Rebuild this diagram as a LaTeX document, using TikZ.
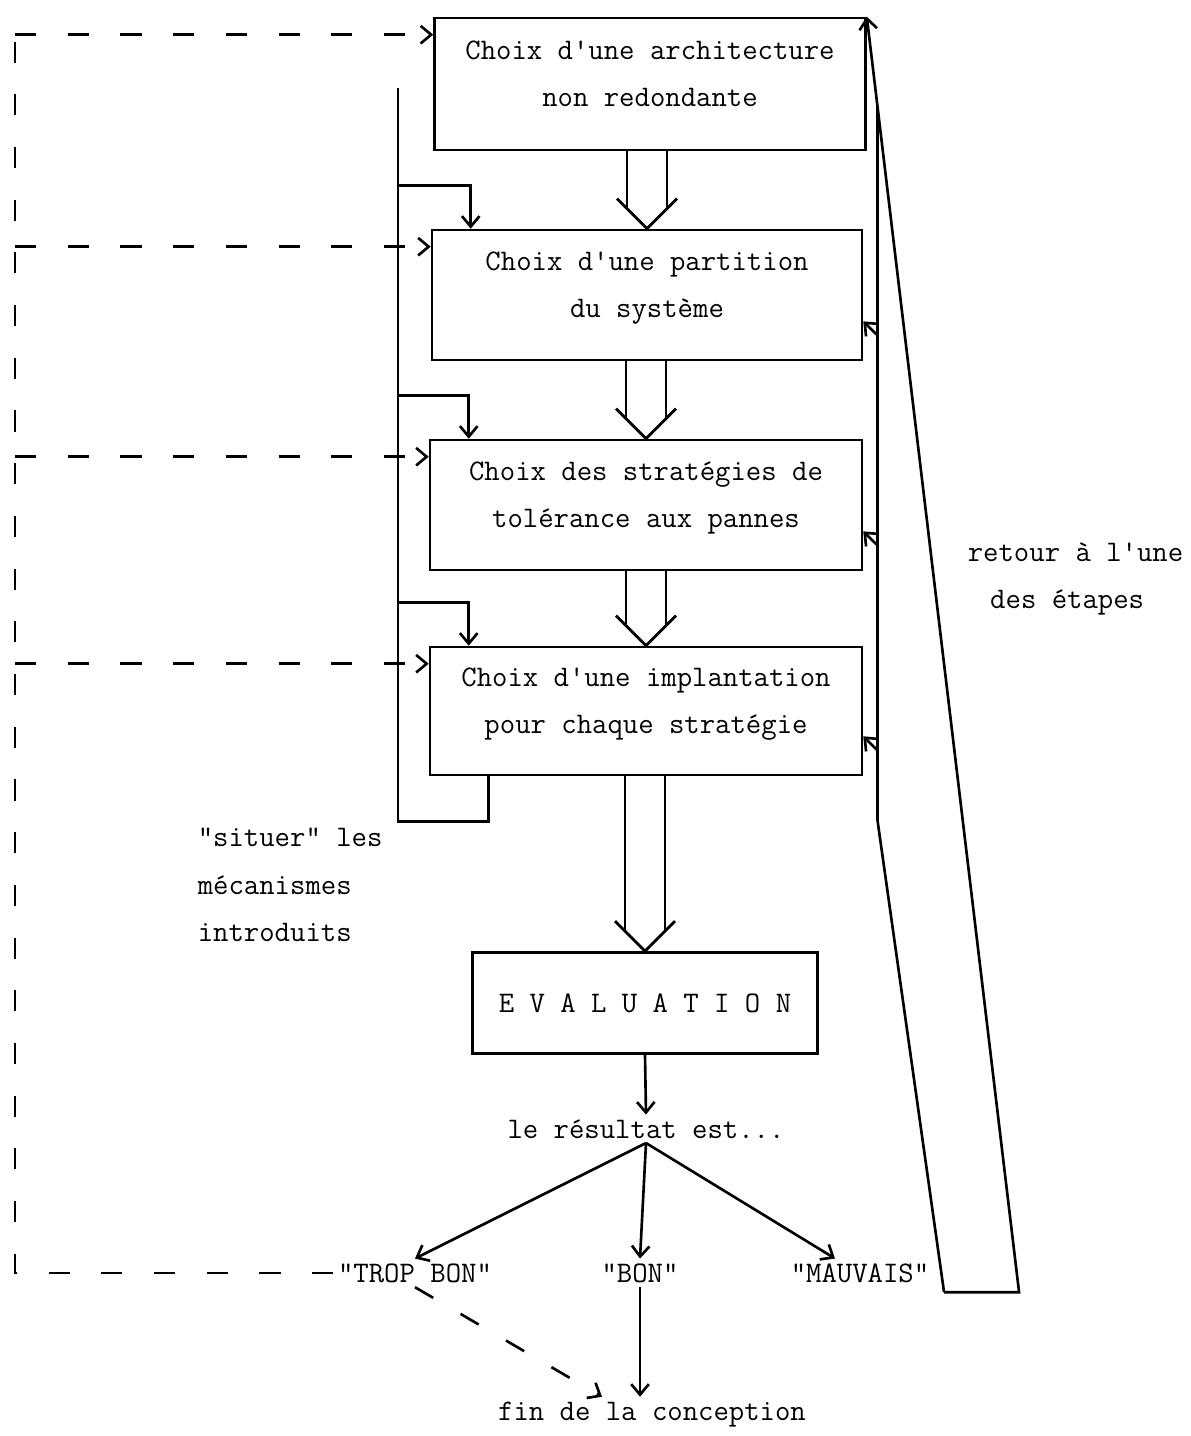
\documentclass[tikz,border=0pt]{standalone}
\usetikzlibrary{calc,arrows.meta}

\tikzset{
	every node/.style={font=\fontsize{17}{27}\selectfont\ttfamily},
	box/.style={draw, line width=1.5pt, align=center, inner sep=0pt},
	etape/.style={box, text depth=12pt},
	lbl/.style={inner sep=2pt},
	dline/.style={dash pattern=on 12pt off 18pt},
}

% double arrow between two boxes
\newcommand{\dblarrow}[2]{%
	\draw[line width=1.6pt] (#2.north |- #1.south) ++(-20,0) -- ($(#2.north)+(-20,-20)$);
	\draw[line width=1.6pt] (#2.north |- #1.south) ++(20,0) -- ($(#2.north)+(20,-20)$);
	\draw[line width=1.6pt] ($(#2.north)+(-30,-30)$) -- (#2.north) -- ($(#2.north)+(30,-30)$);
}

\begin{document}
\begin{tikzpicture}[x=0.02cm, y=-0.02cm, line width=1.5pt, >={Straight Barb[length=6pt,width=10pt]}]
		\useasboundingbox (0,0) rectangle (1190,1436);

		\node[etape, minimum width=8.62cm, minimum height=2.64cm] at (650, 84) (b1) {Choix d'une architecture\\non redondante};
		\node[etape, minimum width=8.6cm, minimum height=2.6cm] at (647, 295) (b2) {Choix d'une partition\\du système};
		\node[etape, minimum width=8.64cm, minimum height=2.6cm] at (646, 505) (b3) {Choix des stratégies de\\tolérance aux pannes};
		\node[etape, minimum width=8.64cm, minimum height=2.56cm] at (646, 711) (b4) {Choix d'une implantation\\pour chaque stratégie};
		\node[box, minimum width=6.9cm, minimum height=2.02cm] at (645, 1003) (ev) {E V A L U A T I O N};

		\node[lbl, anchor=base] at (646, 1138) (res) {le résultat est...};
		\node[lbl, anchor=base] at (415, 1282) (tb) {"TROP BON"};
		\node[lbl, anchor=base] at (640, 1282) (bon) {"BON"};
		\node[lbl, anchor=base] at (860, 1282) (mv) {"MAUVAIS"};
		\node[lbl, anchor=base] at (652, 1420) (fin) {fin de la conception};

		\node[lbl, anchor=west, align=left] at (193, 885) (sit) {"situer" les\\mécanismes\\introduits};
		\node[lbl, anchor=west, align=left] at (963, 579) (ret) {retour à l'une\\\hspace*{0.75em}des étapes};

		% draw edges
		\dblarrow{b1}{b2}
		\dblarrow{b2}{b3}
		\dblarrow{b3}{b4}
		\dblarrow{b4}{ev}

		\draw[->] (ev.south) -- (res.north);
		\draw[->] (res.south) -- (tb.north);
		\draw[->] (res.south) -- (bon.north);
		\draw[->] (res.south) -- ($(mv.north)+(-25,0)$);
		\draw[->] (bon.south) -- (bon.south |- fin.north);
		\draw[dline, ->] (tb.south) -- ($(fin.north)+(-50,0)$);

		% mechanisms loop on the left
		\coordinate (bustop) at (398, 88);
		\coordinate (s0) at ([xshift=1.2cm]b4.south west);
		\draw (s0) -- ++(0,45) -| (bustop);
		\foreach \bx in {b2,b3,b4}{
			\coordinate (k\bx) at ([xshift=0.8cm,yshift=0.86cm]\bx.north west);
			\draw[->] (bustop |- k\bx) -| ([xshift=0.8cm]\bx.north west);
		}

		% "trop bon" back to every step
		\coordinate (dtop) at (15, 10);
		\draw[dline] (tb.west) -| (dtop);
		\foreach \bx in {b1,b2,b3,b4}{
			\coordinate (d\bx) at ([yshift=-0.36cm]\bx.north west);
			\draw[dline, ->] (dtop |- d\bx) -- (d\bx);
		}

		% "mauvais" back to one of the steps
		\coordinate (m0) at ([xshift=0.2cm,yshift=-0.1cm]mv.south east);
		\coordinate (rt) at ($(m0)+(75,0)$);
		\draw[->] (m0) -- (rt) -- (b1.north east);
		\coordinate (jn) at ($(b1.north east)!0.07!(rt)$);
		\draw (m0) -- (jn |- 0,820) -- (jn);
		\foreach \bx in {b2,b3,b4}{
			\coordinate (t\bx) at ([yshift=0.8cm]\bx.south east);
			\draw[->] ($(jn |- t\bx)+(0,14)$) -- (t\bx);
		}
\end{tikzpicture}
\end{document}
